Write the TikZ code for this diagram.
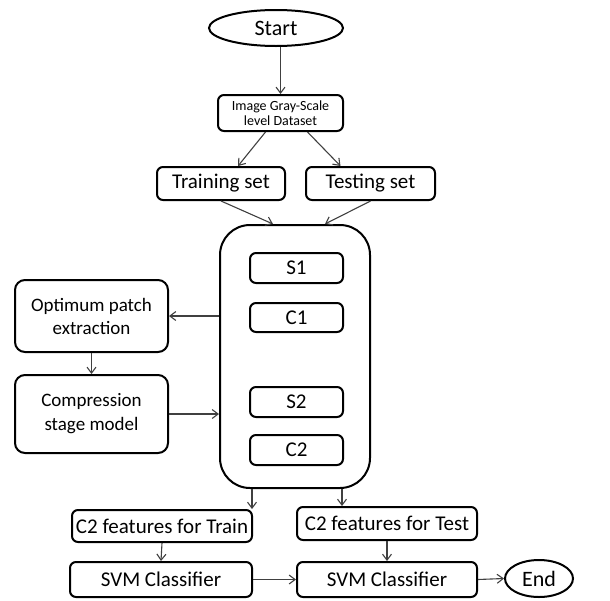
\documentclass[tikz,border=0pt]{standalone}
\usepackage{fontspec}
\setmainfont{Carlito}
\usetikzlibrary{
    arrows.meta,
    positioning,
    shapes.geometric
}
\tikzset{
  box/.style   = {draw, line width=2pt, rounded corners=6pt, align=center,
                  inner sep=0pt, font=\fontsize{21}{23}\selectfont},
  term/.style  = {draw, ellipse, line width=2pt, inner sep=0pt,
                  font=\fontsize{22}{24}\selectfont},
  arr/.style   = {-{Straight Barb[length=6pt,width=9pt]}, line width=1.1pt, black!75}
}

\begin{document}
\begin{tikzpicture}[x=1pt, y=-1pt]
\useasboundingbox (0,0) rectangle (610,600);
% top of the flow
\node[term, minimum width=134pt, minimum height=36pt] (start) at (276,28) {Start};
\node[box, minimum width=125pt, minimum height=36pt, font=\fontsize{14}{14.5}\selectfont]
    (data) at (280.5,113) {Image Gray-Scale\\level Dataset};
\node[box, minimum width=128pt, minimum height=33pt] (train) at (221,183.5) {Training set};
\node[box, minimum width=129pt, minimum height=33pt] (test) at (370.5,183.5) {Testing set};
% HMAX stages
\node[box, rounded corners=30pt, minimum width=150pt, minimum height=263pt] (hmax) at (295,356.5) {};
\node[box, minimum width=93pt, minimum height=30pt] (s1) at (296.5,268) {S1};
\node[box, minimum width=93pt, minimum height=29pt] (c1) at (296.5,317.5) {C1};
\node[box, minimum width=93pt, minimum height=30pt] (s2) at (296.5,402) {S2};
\node[box, minimum width=93pt, minimum height=30pt] (c2) at (296.5,450) {C2};
% side branch
\node[box, rounded corners=10pt, minimum width=153pt, minimum height=72pt,
      font=\fontsize{19}{23}\selectfont] (opt) at (91.5,316) {Optimum patch\\extraction};
\node[box, rounded corners=10pt, minimum width=153pt, minimum height=78pt,
      font=\fontsize{19}{24}\selectfont] (comp) at (91.5,414) {Compression\\stage model};
% features and classifiers
\node[box, minimum width=180pt, minimum height=32pt] (ftrain) at (162,526) {C2 features for Train};
\node[box, minimum width=180pt, minimum height=33pt] (ftest) at (387,523.5) {C2 features for Test};
\node[box, minimum width=182pt, minimum height=35pt] (svma) at (161,579.5) {SVM Classifier};
\node[box, minimum width=180pt, minimum height=35pt] (svmb) at (387,579.5) {SVM Classifier};
\node[term, minimum width=68pt, minimum height=37pt] (end) at (539,578.5) {End};

\draw[arr] (start.south -| data.north) -- (data.north);
\draw[arr] ([xshift=-15]data.south) -- ([xshift=17]train.north);
\draw[arr] ([xshift=27]data.south) -- ([xshift=-30]test.north);
\draw[arr] (train.south) -- ([xshift=-22]hmax.north);
\draw[arr] (test.south) -- ([xshift=30]hmax.north);
\draw[arr] (hmax.west |- opt.east) -- (opt.east);
\draw[arr] (opt.south) -- (comp.north);
\draw[arr] (comp.east) -- (hmax.west |- comp.east);
\draw[arr] ([xshift=-43]hmax.south) -- ([xshift=-43]hmax.south |- ftrain.north);
\draw[arr] ([xshift=47]hmax.south) -- ([xshift=47]hmax.south |- ftest.north);
\draw[arr] (ftrain.south) -- (svma.north);
\draw[arr] (ftest.south) -- (svmb.north);
\draw[arr] (svma.east) -- (svmb.west);
\draw[arr] (svmb.east) -- (end.west);
\end{tikzpicture}
\end{document}
